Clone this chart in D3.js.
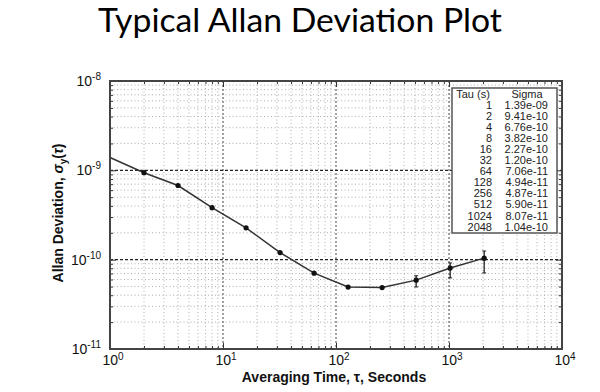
<!DOCTYPE html>
<html><head><meta charset="utf-8">
<script src="https://cdn.jsdelivr.net/npm/d3@7"></script>
<style>body{margin:0;background:#fff}svg{display:block}</style>
</head><body>
<svg id="c" width="600" height="392"></svg>
<script>
const tau = [1, 2, 4, 8, 16, 32, 64, 128, 256, 512, 1024, 2048];
const sigma = [1.39e-9, 9.41e-10, 6.76e-10, 3.82e-10, 2.27e-10, 1.20e-10, 7.06e-11, 4.94e-11, 4.87e-11, 5.90e-11, 8.07e-11, 1.04e-10];
const sigmaLabels = ["1.39e-09","9.41e-10","6.76e-10","3.82e-10","2.27e-10","1.20e-10","7.06e-11","4.94e-11","4.87e-11","5.90e-11","8.07e-11","1.04e-10"];
const errLow  = [null, null, null, null, null, null, null, null, null, 4.95e-11, 6.25e-11, 7.1e-11];
const errHigh = [null, null, null, null, null, null, null, null, null, 6.6e-11, 9.2e-11, 1.25e-10];
const xDomain = [1, 1e4];
const yDomain = [1e-11, 1e-8];
const xDecades = [0, 1, 2, 3, 4];
const yDecades = [-8, -9, -10, -11];
const titleText = "Typical Allan Deviation Plot";

const svg = d3.select("#c");
const L = 110, R = 562, T = 81, B = 349;
const x = d3.scaleLog().domain(xDomain).range([L, R]);
const y = d3.scaleLog().domain(yDomain).range([B, T]);

// title
const title = svg.append("text").attr("x", 300).attr("y", 32).attr("text-anchor", "middle")
  .style("font-family", "Lato, 'Open Sans', sans-serif").style("font-size", "32px").style("fill", "#000")
  .text(titleText);
const tw = title.node().getComputedTextLength();
title.style("font-size", (32 * 404 / tw) + "px");

// grid
const g = svg.append("g");
const xMinor = [], yMinor = [];
for (let e = 0; e < 4; e++) for (let k = 2; k <= 9; k++) xMinor.push(k * Math.pow(10, e));
for (let e = -11; e < -8; e++) for (let k = 2; k <= 9; k++) yMinor.push(k * Math.pow(10, e));
g.selectAll(".xm").data(xMinor).join("line").attr("x1", d => x(d)).attr("x2", d => x(d))
  .attr("y1", T).attr("y2", B).attr("stroke", "#9a9a9a").attr("stroke-width", 0.8).attr("stroke-dasharray", "1,2.5");
g.selectAll(".ym").data(yMinor).join("line").attr("y1", d => y(d)).attr("y2", d => y(d))
  .attr("x1", L).attr("x2", R).attr("stroke", "#9a9a9a").attr("stroke-width", 0.8).attr("stroke-dasharray", "1,2.5");
g.selectAll(".xM").data(xDecades.slice(1, -1)).join("line").attr("x1", d => x(Math.pow(10, d))).attr("x2", d => x(Math.pow(10, d)))
  .attr("y1", T).attr("y2", B).attr("stroke", "#444").attr("stroke-width", 1).attr("stroke-dasharray", "2,2");
g.selectAll(".yM").data(yDecades.slice(1, -1)).join("line").attr("y1", d => y(Math.pow(10, d))).attr("y2", d => y(Math.pow(10, d)))
  .attr("x1", L).attr("x2", R).attr("stroke", "#222").attr("stroke-width", 1.1).attr("stroke-dasharray", "3,2");

// inner ticks via axes
const majX = xDecades.map(d => Math.pow(10, d)), majY = yDecades.map(d => Math.pow(10, d));
function tickAxis(axisFn, scale, vals, size, transform) {
  svg.append("g").attr("transform", transform)
    .call(axisFn(scale).tickValues(vals).tickSize(size).tickFormat(""))
    .call(a => a.select(".domain").remove())
    .call(a => a.selectAll("line").attr("stroke", "#333"));
}
tickAxis(d3.axisTop, x, majX, 6, `translate(0,${B})`);
tickAxis(d3.axisTop, x, xMinor, 3, `translate(0,${B})`);
tickAxis(d3.axisBottom, x, majX, 6, `translate(0,${T})`);
tickAxis(d3.axisBottom, x, xMinor, 3, `translate(0,${T})`);
tickAxis(d3.axisRight, y, majY, 6, `translate(${L},0)`);
tickAxis(d3.axisRight, y, yMinor, 3, `translate(${L},0)`);
tickAxis(d3.axisLeft, y, majY, 6, `translate(${R},0)`);
tickAxis(d3.axisLeft, y, yMinor, 3, `translate(${R},0)`);

// tick labels
const lblFont = "'Liberation Sans', Arial, sans-serif";
const xl = svg.append("g").style("font-family", lblFont).style("font-size", "14px").style("fill", "#111");
xDecades.forEach(d => {
  const t = xl.append("text").attr("x", x(Math.pow(10, d)) + 3).attr("y", 365).attr("text-anchor", "middle");
  t.append("tspan").text("10");
  t.append("tspan").attr("dy", -5).style("font-size", "10px").text(d);
});
yDecades.forEach(d => {
  const t = xl.append("text").attr("x", 101).attr("y", y(Math.pow(10, d)) + 5).attr("text-anchor", "end");
  t.append("tspan").text("10");
  t.append("tspan").attr("dy", -6).style("font-size", "10px").text(String(d));
});

// axis titles
svg.append("text").attr("x", 334).attr("y", 382).attr("text-anchor", "middle")
  .style("font-family", lblFont).style("font-size", "14px").style("font-weight", "bold").style("fill", "#111")
  .text("Averaging Time, τ, Seconds");
const yt = svg.append("text").attr("transform", "translate(63,213) rotate(-90)").attr("text-anchor", "middle")
  .style("font-family", lblFont).style("font-size", "14px").style("font-weight", "bold").style("fill", "#111");
yt.append("tspan").text("Allan Deviation, ");
yt.append("tspan").style("font-style", "italic").text("σ");
yt.append("tspan").attr("dy", 4).style("font-size", "10px").text("y");
yt.append("tspan").attr("dy", -4).text("(");
yt.append("tspan").style("font-style", "italic").text("τ");
yt.append("tspan").text(")");

// data line
const idx = d3.range(tau.length);
svg.append("path").datum(idx)
  .attr("d", d3.line().x(i => x(tau[i])).y(i => y(sigma[i])))
  .attr("fill", "none").attr("stroke", "#333").attr("stroke-width", 1.5);
// error bars
const eb = idx.filter(i => errLow[i] != null);
svg.selectAll(".eb").data(eb).join("line").attr("x1", i => x(tau[i])).attr("x2", i => x(tau[i]))
  .attr("y1", i => y(errLow[i])).attr("y2", i => y(errHigh[i])).attr("stroke", "#222").attr("stroke-width", 1.3);
svg.selectAll(".ec1").data(eb).join("line").attr("x1", i => x(tau[i]) - 2).attr("x2", i => x(tau[i]) + 2)
  .attr("y1", i => y(errLow[i])).attr("y2", i => y(errLow[i])).attr("stroke", "#222").attr("stroke-width", 1);
svg.selectAll(".ec2").data(eb).join("line").attr("x1", i => x(tau[i]) - 2).attr("x2", i => x(tau[i]) + 2)
  .attr("y1", i => y(errHigh[i])).attr("y2", i => y(errHigh[i])).attr("stroke", "#222").attr("stroke-width", 1);
// markers
svg.selectAll(".pt").data(idx.slice(1)).join("circle")
  .attr("cx", i => x(tau[i])).attr("cy", i => y(sigma[i])).attr("r", 2.6).attr("fill", "#111");

// frame
svg.append("rect").attr("x", L).attr("y", T).attr("width", R - L).attr("height", B - T)
  .attr("fill", "none").attr("stroke", "#444").attr("stroke-width", 2);

// table
const tb = svg.append("g").style("font-family", lblFont).style("font-size", "11px").style("fill", "#222");
tb.append("rect").attr("x", 452).attr("y", 88).attr("width", 105).attr("height", 145)
  .attr("fill", "#fff").attr("stroke", "#555").attr("stroke-width", 1.5);
tb.append("text").attr("x", 473).attr("y", 98).attr("text-anchor", "middle").text("Tau (s)");
tb.append("text").attr("x", 527).attr("y", 98).attr("text-anchor", "middle").text("Sigma");
idx.forEach(i => {
  const yy = 108.5 + i * 11.1;
  tb.append("text").attr("x", 492).attr("y", yy).attr("text-anchor", "end").text(tau[i]);
  tb.append("text").attr("x", 548).attr("y", yy).attr("text-anchor", "end").text(sigmaLabels[i]);
});
</script>
</body></html>
